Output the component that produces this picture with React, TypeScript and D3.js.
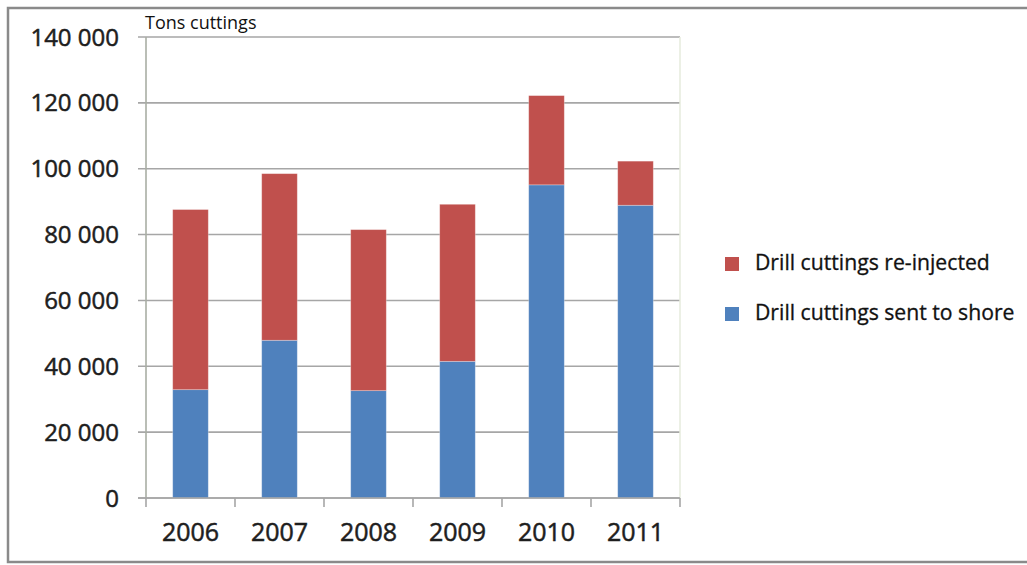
import React from "react";
import * as d3 from "d3";

// Drill cuttings (tons) per year, split by disposal route
const years = ["2006", "2007", "2008", "2009", "2010", "2011"];
const sentToShore = [32900, 47900, 32600, 41500, 95100, 88900];
const reInjected = [54700, 50600, 48900, 47700, 27100, 13400];
const yTicks = [0, 20000, 40000, 60000, 80000, 100000, 120000, 140000];

const seriesNames = ["Drill cuttings re-injected", "Drill cuttings sent to shore"];
const seriesColors = { shore: "#4F81BD", reinjected: "#C0504D" };

const W = 1027;
const H = 565;
const plot = { left: 146, right: 680, top: 37, bottom: 498 };
const FONT = "'Open Sans', 'Noto Sans', sans-serif";

const locale = d3.formatLocale({
  decimal: ",",
  thousands: " ",
  grouping: [3],
  currency: ["", ""],
});
const fmt = locale.format(",d");

export default function App() {
  const rows = years.map((year, i) => ({
    year,
    shore: sentToShore[i],
    reinjected: reInjected[i],
  }));

  const x = d3
    .scaleBand<string>()
    .domain(years)
    .range([plot.left, plot.right])
    .paddingInner(0.6)
    .paddingOuter(0.3);

  const y = d3.scaleLinear().domain([0, 140000]).range([plot.bottom, plot.top]);

  const stacked = d3.stack<any>().keys(["shore", "reinjected"])(rows);

  const boundaries = d3.range(years.length + 1).map((i) => plot.left + i * x.step());

  return (
    <svg
      width={W}
      height={H}
      style={{ position: "absolute", left: 0, top: 0, background: "#fff" }}
    >
      {/* outer frame */}
      <rect x={8} y={8} width={W + 10} height={554} fill="#fff" stroke="#8a8a8a" strokeWidth={2.5} />

      {/* horizontal gridlines */}
      {yTicks.map((t) => (
        <line
          key={`g${t}`}
          x1={plot.left - 8}
          x2={plot.right}
          y1={y(t)}
          y2={y(t)}
          stroke="#a6a6a6"
          strokeWidth={1.6}
        />
      ))}

      {/* plot right edge */}
      <line x1={plot.right} x2={plot.right} y1={plot.top} y2={plot.bottom} stroke="#e6ebdc" strokeWidth={1.5} />

      {/* stacked bars */}
      {stacked.map((layer) => (
        <g key={layer.key} fill={(seriesColors as any)[layer.key]}>
          {layer.map((d, i) => (
            <rect
              key={years[i]}
              x={x(years[i])!}
              y={y(d[1])}
              width={x.bandwidth()}
              height={y(d[0]) - y(d[1])}
              stroke="#ffffff"
              strokeOpacity={0.35}
              strokeWidth={0.8}
            />
          ))}
        </g>
      ))}

      {/* axes */}
      <line x1={plot.left} x2={plot.left} y1={plot.top} y2={plot.bottom} stroke="#a9aea4" strokeWidth={1.6} />
      <line x1={plot.left - 8} x2={plot.right} y1={plot.bottom} y2={plot.bottom} stroke="#a6a6a6" strokeWidth={1.6} />
      {boundaries.map((bx, i) => (
        <line key={`t${i}`} x1={bx} x2={bx} y1={plot.bottom} y2={plot.bottom + 9} stroke="#a6a6a6" strokeWidth={1.6} />
      ))}

      {/* y tick labels */}
      {yTicks.map((t) => (
        <text
          key={`l${t}`}
          x={119}
          y={y(t)}
          dy="0.36em"
          textAnchor="end"
          fontFamily={FONT}
          fontSize={24}
          fill="#1e1e1e"
          stroke="#1e1e1e"
          strokeWidth={0.5}
        >
          {fmt(t)}
        </text>
      ))}

      {/* x tick labels */}
      {years.map((yr) => (
        <text
          key={`x${yr}`}
          x={x(yr)! + x.bandwidth() / 2}
          y={541}
          textAnchor="middle"
          fontFamily={FONT}
          fontSize={25}
          fill="#1e1e1e"
          stroke="#1e1e1e"
          strokeWidth={0.5}
        >
          {yr}
        </text>
      ))}

      {/* unit label */}
      <text x={145} y={29} fontFamily={FONT} fontSize={18} fill="#111">
        Tons cuttings
      </text>

      {/* legend */}
      {[
        { label: seriesNames[0], color: seriesColors.reinjected },
        { label: seriesNames[1], color: seriesColors.shore },
      ].map((item, i) => (
        <g key={item.label} transform={`translate(725, ${257 + i * 50})`}>
          <rect width={14} height={14} fill={item.color} />
          <text x={30} y={13} fontFamily={FONT} fontSize={21.2} fill="#111" stroke="#111" strokeWidth={0.3}>
            {item.label}
          </text>
        </g>
      ))}
    </svg>
  );
}
